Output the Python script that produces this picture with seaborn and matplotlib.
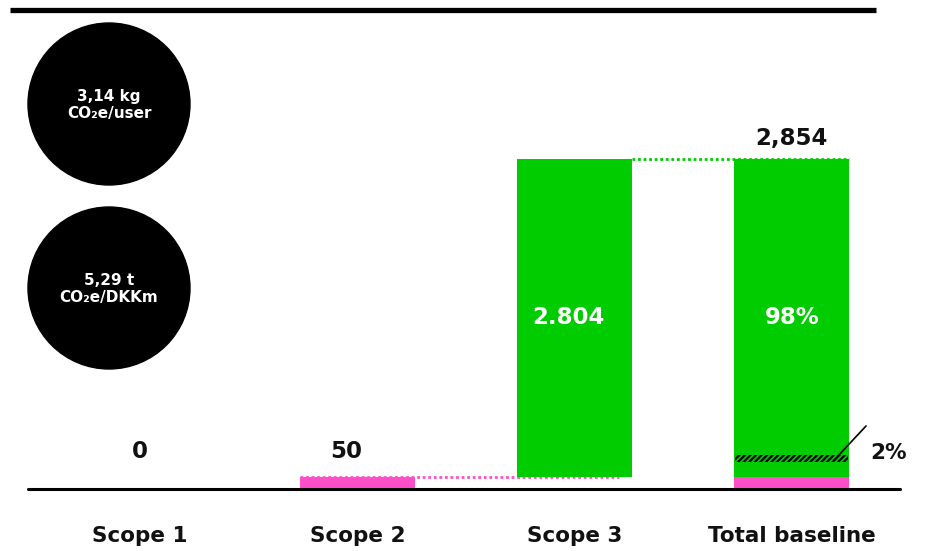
import matplotlib
matplotlib.use("Agg")
import matplotlib.pyplot as plt
import seaborn as sns
import pandas as pd
import numpy as np
from matplotlib.patches import Circle, Rectangle
from matplotlib.lines import Line2D

# ---- data ----
categories = ["Scope 1", "Scope 2", "Scope 3", "Total baseline"]
pink_values = [0, 50, 0, 50]          # scope 1 + 2 emissions
green_values = [0, 0, 2804, 2804]     # scope 3 emissions
value_labels = ["0", "50", "2.804", "98%"]
total_value = 2854
total_label = "2,854"
share_small = "2%"
circle_texts = ["3,14 kg\nCO\u2082e/user", "5,29 t\nCO\u2082e/DKKm"]

GREEN = "#00cc00"
PINK = "#ff4fc8"

sns.set_theme(style="white")
plt.rcParams["font.family"] = ["DejaVu Sans"]

W, H = 926, 551
fig = plt.figure(figsize=(W / 100, H / 100), dpi=100)
ax = fig.add_axes([0, 0, 1, 1])

# visual scale
base_px, top_px = 489, 159
upp = total_value / (base_px - top_px)
min_vis = 12 * upp  # minimum visible thickness for small bars

pink_vis = [max(v, min_vis) if v > 0 else 0 for v in pink_values]
green_bottom = [max(pink_vis)] * 4
green_height = [total_value - green_bottom[i] if green_values[i] > 0 else 0 for i in range(4)]

df_p = pd.DataFrame({"cat": categories, "v": pink_vis})
df_g = pd.DataFrame({"cat": categories, "v": green_height})

sns.barplot(data=df_g, x="cat", y="v", order=categories, color=GREEN, width=0.53,
            bottom=green_bottom, saturation=1, linewidth=0, ax=ax, zorder=2)
sns.barplot(data=df_p, x="cat", y="v", order=categories, color=PINK, width=0.53,
            saturation=1, linewidth=0, ax=ax, zorder=2)

spacing = 217.3
x0 = 140
ax.set_xlim(-x0 / spacing, (W - x0) / spacing)
ax.set_ylim(-(H - base_px) * upp, base_px * upp)
ax.axis("off")

hw = 0.53 / 2
# baseline
ax.axhline(0, xmin=28 / W, xmax=900 / W, color="black", lw=2.2, zorder=3)
# dotted connectors
ax.plot([1 - hw, 2 + hw - 0.06], [max(pink_vis)] * 2, color=PINK, lw=2, ls=(0, (1, 1)), zorder=1)
ax.plot([2 + hw, 3 + hw], [total_value] * 2, color=GREEN, lw=2, ls=(0, (1, 1)), zorder=3)

FS = 15.5
FSN = 16.5
# value labels
lab_kw = dict(ha="center", va="center", fontsize=FSN, fontweight="bold", color="#111111")
ax.text(0, 37 * upp, value_labels[0], **lab_kw)
ax.text(0.95, 37 * upp, value_labels[1], **lab_kw)
ax.text(3, total_value + 21 * upp, total_label, **lab_kw)
mid = (max(pink_vis) + total_value) / 2
ax.text(1.97, mid, value_labels[2], ha="center", va="center", fontsize=FSN, fontweight="bold", color="white", zorder=4)
ax.text(3, mid, value_labels[3], ha="center", va="center", fontsize=FSN, fontweight="bold", color="white", zorder=4)

for i, c in enumerate(categories):
    ax.text(i, -47 * upp, c, ha="center", va="center", fontsize=FS, fontweight="bold", color="#111111")

# decoration overlay in pixel coords
deco = fig.add_axes([0, 0, 1, 1], zorder=5)
deco.set_xlim(0, W)
deco.set_ylim(H, 0)
deco.axis("off")
deco.patch.set_alpha(0)

deco.add_line(Line2D([10, 876], [10, 10], color="black", lw=3.8, solid_capstyle="butt"))

for cy, txt in zip([104, 288], circle_texts):
    deco.add_patch(Circle((109, cy), 81, color="black"))
    deco.text(109, cy + 1, txt, ha="center", va="center", color="white", fontsize=11,
              fontweight="bold", linespacing=1.1)

plt.rcParams["hatch.linewidth"] = 1.6
deco.add_patch(Rectangle((735, 455), 113, 7, facecolor="none", edgecolor="black",
                         hatch="//////", linewidth=0))
deco.add_line(Line2D([838, 866], [456, 426], color="black", lw=1.2))
deco.text(888, 453, share_small, ha="center", va="center", fontsize=FS, fontweight="bold", color="#111111")

fig.savefig("out.png", dpi=100)
